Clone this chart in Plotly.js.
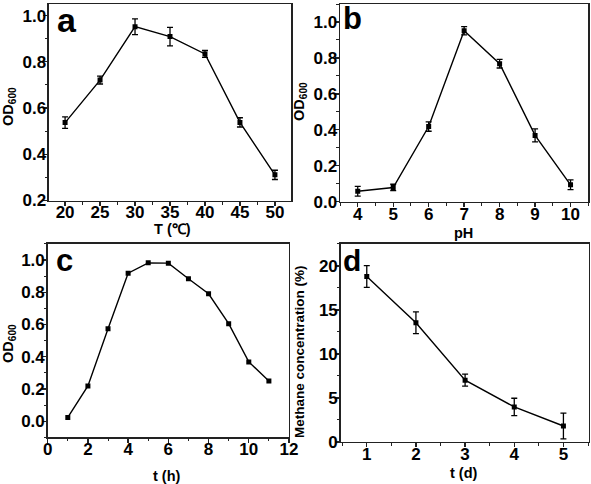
<!DOCTYPE html>
<html><head><meta charset="utf-8">
<script src="https://cdn.plot.ly/plotly-3.0.1.min.js"></script>
<style>html,body{margin:0;padding:0;background:#fff}#plot{width:591px;height:484px}</style>
</head><body><div id="plot"></div>
<script>
// Panel a: temperature
const tempX = [20, 25, 30, 35, 40, 45, 50];
const tempOD = [0.537, 0.721, 0.952, 0.909, 0.834, 0.538, 0.311];
const tempErr = [0.025, 0.017, 0.034, 0.04, 0.015, 0.02, 0.02];
// Panel b: pH
const phX = [4, 5, 6, 7, 8, 9, 10];
const phOD = [0.058, 0.079, 0.418, 0.951, 0.768, 0.369, 0.094];
const phErr = [0.027, 0.018, 0.026, 0.023, 0.024, 0.036, 0.027];
// Panel c: growth curve
const timeH = [1, 2, 3, 4, 5, 6, 7, 8, 9, 10, 11];
const timeOD = [0.023, 0.219, 0.574, 0.919, 0.983, 0.981, 0.884, 0.791, 0.605, 0.368, 0.25];
// Panel d: methane
const timeD = [1, 2, 3, 4, 5];
const methane = [18.8, 13.55, 7.02, 3.98, 1.82];
const methaneErr = [1.23, 1.23, 0.68, 0.99, 1.46];

const F = "Liberation Sans, Arial, sans-serif";
const tickFont = {family: F, size: 17, color: '#000', weight: 'bold'};

function trace(x, y, err, xa, ya) {
  const t = {x: x, y: y, xaxis: xa, yaxis: ya, type: 'scatter', mode: 'lines+markers',
    line: {color: '#000', width: 1.4}, marker: {symbol: 'square', size: 5, color: '#000'},
    showlegend: false, hoverinfo: 'skip'};
  if (err) t.error_y = {type: 'data', array: err, visible: true, color: '#000', thickness: 1.3, width: 3};
  return t;
}
const data = [
  trace(tempX, tempOD, tempErr, 'x', 'y'),
  trace(phX, phOD, phErr, 'x2', 'y2'),
  trace(timeH, timeOD, null, 'x3', 'y3'),
  trace(timeD, methane, methaneErr, 'x4', 'y4')
];

function ax(domain, range, dtick, minor, anchor, standoff, extra) {
  return Object.assign({domain: domain, range: range, dtick: dtick, tick0: 0, anchor: anchor,
    showline: true, mirror: true, linecolor: '#222', linewidth: 1.5,
    ticks: 'outside', ticklen: 4, tickwidth: 1.3, tickcolor: '#222',
    ticklabelposition: 'outside', ticklabelstandoff: standoff,
    minor: {dtick: minor, ticks: 'outside', ticklen: 2.5, tickwidth: 1, tickcolor: '#222', showgrid: false},
    showgrid: false, zeroline: false, tickfont: tickFont}, extra || {});
}

function lab(text, px, py, size, anchorX, anchorY, angle) {
  return {text: text, xref: 'paper', yref: 'paper', x: px / 591, y: 1 - py / 484,
    xanchor: anchorX || 'center', yanchor: anchorY || 'middle', textangle: angle || 0,
    showarrow: false, font: {family: F, size: size, color: '#000', weight: 'bold'}};
}

const layout = {
  width: 591, height: 484, margin: {l: 0, r: 0, t: 0, b: 0},
  paper_bgcolor: '#fff', plot_bgcolor: '#fff',
  xaxis: ax([0.0829, 0.4924], [17.7, 52.3], 5, 2.5, 'y', -8),
  yaxis: ax([0.5857, 0.9917], [0.2, 1.05], 0.2, 0.1, 'x', -6, {tickformat: '.1f'}),
  xaxis2: ax([0.5753, 0.9954], [3.5, 10.5], 1, 0.5, 'y2', -8),
  yaxis2: ax([0.5833, 0.9917], [0, 1.1], 0.2, 0.1, 'x2', -6, {tickformat: '.1f'}),
  xaxis3: ax([0.0807, 0.489], [0, 12], 2, 1, 'y3', -8),
  yaxis3: ax([0.0965, 0.4959], [-0.1, 1.1], 0.2, 0.1, 'x3', -6, {tickformat: '.1f'}),
  xaxis4: ax([0.5765, 0.9966], [0.47, 5.52], 1, 0.5, 'y4', -8),
  yaxis4: ax([0.0868, 0.4959], [0, 22.5], 5, 2.5, 'x4', -6),
  annotations: [
    lab('a', 55, -1, 34, 'left', 'top'),
    lab('b', 341, -1, 31, 'left', 'top'),
    lab('c', 54, 241, 31, 'left', 'top'),
    lab('d', 341, 242, 30, 'left', 'top'),
    lab('T (℃)', 172, 229, 14.5),
    lab('pH', 463, 233, 14.5),
    lab('t (h)', 167, 476, 14.5),
    lab('t (d)', 464, 473, 14.5),
    lab('OD<sub>600</sub>', 9, 107, 14.5, 'center', 'middle', -90),
    lab('OD<sub>600</sub>', 300, 102, 14.5, 'center', 'middle', -90),
    lab('OD<sub>600</sub>', 9, 344, 14.5, 'center', 'middle', -90),
    lab('Methane concentration (%)', 299, 352, 13.5, 'center', 'middle', -90)
  ]
};
Plotly.newPlot('plot', data, layout, {staticPlot: true});
</script></body></html>
